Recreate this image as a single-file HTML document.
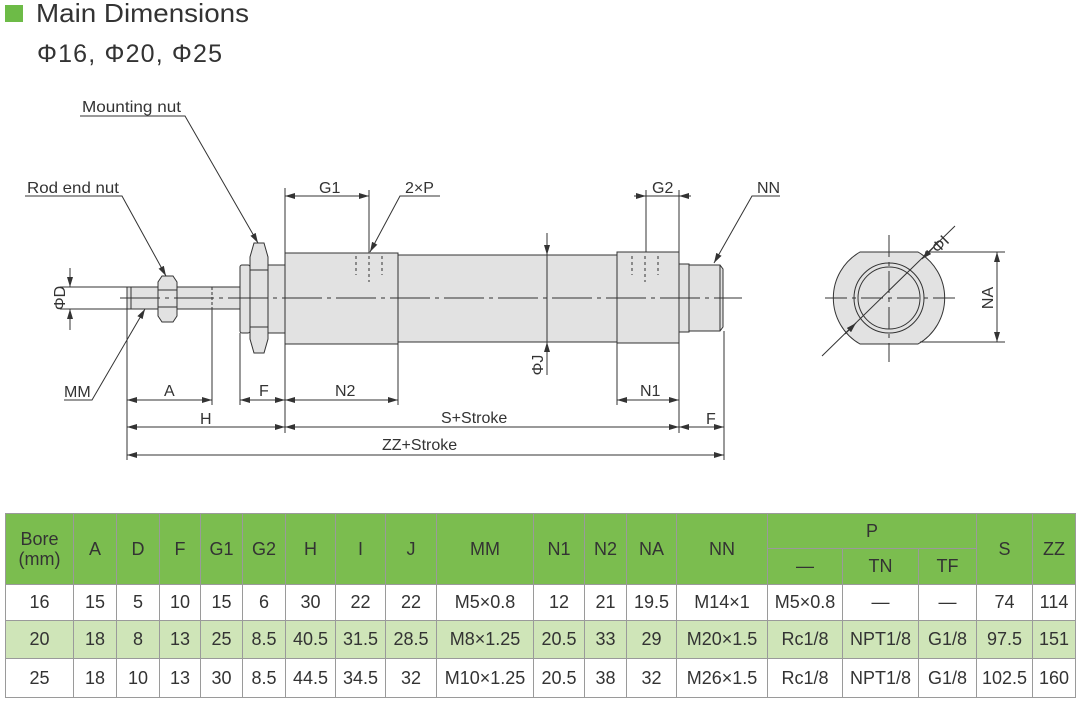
<!DOCTYPE html>
<html><head><meta charset="utf-8"><style>
body{margin:0;width:1080px;height:701px;background:#fff;position:relative;overflow:hidden;font-family:"Liberation Sans",sans-serif;color:#333}
svg{position:absolute;left:0;top:0}
table{position:absolute;left:5px;top:513px;border-collapse:collapse;table-layout:fixed;font-size:18px;color:#333}
td{border:1px solid #9a9a9a;text-align:center;padding:0;white-space:nowrap;letter-spacing:0}
.h td{background:#7bbd4f;}
.g td{background:#cfe5b8}
</style></head><body>
<svg width="1080" height="505" font-family="Liberation Sans, sans-serif" fill="#333">
<defs><marker id="a" viewBox="0 0 10 6" refX="10" refY="3" markerWidth="10" markerHeight="6" orient="auto-start-reverse" markerUnits="userSpaceOnUse"><path d="M0,0L10,3L0,6z" fill="#333"/></marker></defs>
<rect x="5" y="5" width="18" height="17" fill="#6dbb47"/>
<text x="36" y="22" font-size="26" textLength="213" lengthAdjust="spacingAndGlyphs">Main Dimensions</text>
<text x="37" y="62" font-size="25" textLength="185" lengthAdjust="spacing">Φ16, Φ20, Φ25</text>
<g stroke="#333" stroke-width="1" fill="#e2e2e2">
<rect x="127" y="287" width="113" height="22"/>
<line x1="131" y1="287" x2="131" y2="309"/>
<line x1="212" y1="287" x2="212" y2="309" stroke-dasharray="3,2"/>
<path d="M162,276h11l4,6v34l-4,6h-11l-4,-6v-34z"/>
<line x1="158" y1="290" x2="177" y2="290"/><line x1="158" y1="307" x2="177" y2="307"/>
<rect x="240" y="265" width="10" height="68" rx="2"/>
<path d="M254,243h10l4,14v82l-4,14h-10l-4,-14v-82z"/>
<line x1="250" y1="270" x2="268" y2="270"/><line x1="250" y1="327" x2="268" y2="327"/>
<rect x="268" y="265" width="17" height="68"/>
<rect x="285" y="253" width="113" height="91"/>
<rect x="398" y="255" width="219" height="87"/>
<rect x="617" y="252" width="62" height="91"/>
<rect x="679" y="264" width="10" height="68"/>
<path d="M689,265h31l3,4v58l-3,4h-31z"/>
<line x1="720" y1="265" x2="720" y2="331"/>
<path d="M860,252H918A53,53 0 0 1 918,344H860A53,53 0 0 1 860,252z"/>
<circle cx="889" cy="298" r="35" fill="#e2e2e2"/>
<circle cx="889" cy="298" r="31"/>
</g>
<g stroke="#333" stroke-width="1" fill="none">
<g stroke-dasharray="3,3">
<line x1="356" y1="256" x2="356" y2="275"/><line x1="369" y1="256" x2="369" y2="282"/><line x1="382" y1="256" x2="382" y2="275"/>
<line x1="632" y1="256" x2="632" y2="275"/><line x1="645" y1="256" x2="645" y2="282"/><line x1="658" y1="256" x2="658" y2="275"/>
</g>
<line x1="120" y1="298" x2="742" y2="298" stroke-dasharray="40,5,4,5"/>
<line x1="825" y1="298" x2="955" y2="298" stroke-dasharray="22,5,4,5"/>
<line x1="889" y1="235" x2="889" y2="362" stroke-dasharray="22,5,4,5"/>
<line x1="127" y1="309" x2="127" y2="460"/>
<line x1="212" y1="309" x2="212" y2="405"/>
<line x1="240" y1="333" x2="240" y2="405"/>
<line x1="285" y1="188" x2="285" y2="433"/>
<line x1="398" y1="344" x2="398" y2="405"/>
<line x1="369" y1="190" x2="369" y2="253"/>
<line x1="617" y1="343" x2="617" y2="405"/>
<line x1="679" y1="190" x2="679" y2="433"/>
<line x1="646" y1="190" x2="646" y2="252"/>
<line x1="724" y1="331" x2="724" y2="460"/>
<line x1="60" y1="287" x2="127" y2="287"/><line x1="60" y1="309" x2="127" y2="309"/>
<line x1="925" y1="252" x2="1005" y2="252"/><line x1="920" y1="342" x2="1005" y2="342"/>
<g marker-start="url(#a)" marker-end="url(#a)">
<line x1="127" y1="400" x2="212" y2="400"/>
<line x1="240" y1="400" x2="285" y2="400"/>
<line x1="285" y1="400" x2="398" y2="400"/>
<line x1="617" y1="400" x2="679" y2="400"/>
<line x1="127" y1="427" x2="285" y2="427"/>
<line x1="285" y1="427" x2="679" y2="427"/>
<line x1="679" y1="427" x2="724" y2="427"/>
<line x1="127" y1="455" x2="724" y2="455"/>
<line x1="285" y1="196" x2="369" y2="196"/>
<line x1="997" y1="252" x2="997" y2="342"/>
</g>
<line x1="634" y1="196" x2="646" y2="196" marker-end="url(#a)"/>
<line x1="691" y1="196" x2="679" y2="196" marker-end="url(#a)"/>
<line x1="646" y1="196" x2="679" y2="196"/>
<line x1="70" y1="268" x2="70" y2="287" marker-end="url(#a)"/>
<line x1="70" y1="330" x2="70" y2="309" marker-end="url(#a)"/>
<line x1="547" y1="233" x2="547" y2="255" marker-end="url(#a)"/>
<line x1="547" y1="375" x2="547" y2="342" marker-end="url(#a)"/>
<line x1="547" y1="255" x2="547" y2="342"/>
<line x1="822" y1="356" x2="955" y2="226"/>
<line x1="845" y1="334" x2="856" y2="323" marker-end="url(#a)"/>
<line x1="933" y1="248" x2="922" y2="259" marker-end="url(#a)"/>
<polyline points="80,116 185,116 258,243" marker-end="url(#a)"/>
<polyline points="25,196 122,196 166,276" marker-end="url(#a)"/>
<polyline points="64,400 92,400 145,309" marker-end="url(#a)"/>
<polyline points="440,196 400,196 370,252" marker-end="url(#a)"/>
<polyline points="780,196 752,196 714,263" marker-end="url(#a)"/>
</g>
<g font-size="16">
<text x="82" y="112" textLength="99" lengthAdjust="spacingAndGlyphs">Mounting nut</text>
<text x="27" y="193" textLength="92" lengthAdjust="spacingAndGlyphs">Rod end nut</text>
<text x="64" y="397">MM</text>
<text x="405" y="193">2×P</text>
<text x="757" y="193">NN</text>
<text x="319" y="193">G1</text>
<text x="652" y="193">G2</text>
<text x="164" y="396">A</text>
<text x="259" y="396">F</text>
<text x="335" y="396">N2</text>
<text x="640" y="396">N1</text>
<text x="200" y="424">H</text>
<text x="441" y="423">S+Stroke</text>
<text x="706" y="424">F</text>
<text x="382" y="450">ZZ+Stroke</text>
<text transform="translate(65,298) rotate(-90)" text-anchor="middle">ΦD</text>
<text transform="translate(543,365) rotate(-90)" text-anchor="middle">ΦJ</text>
<text transform="translate(993,298) rotate(-90)" text-anchor="middle">NA</text>
<text transform="translate(944,248) rotate(-45)" text-anchor="middle">ΦI</text>
</g>
</svg>
<table>
<colgroup><col style="width:68px"><col style="width:43px"><col style="width:43px"><col style="width:41px"><col style="width:42px"><col style="width:43px"><col style="width:50px"><col style="width:50px"><col style="width:51px"><col style="width:97px"><col style="width:51px"><col style="width:42px"><col style="width:50px"><col style="width:91px"><col style="width:75px"><col style="width:76px"><col style="width:58px"><col style="width:56px"><col style="width:43px"></colgroup>
<tr class="h" style="height:35px"><td rowspan="2" style="line-height:20px">Bore<br>(mm)</td><td rowspan="2">A</td><td rowspan="2">D</td><td rowspan="2">F</td><td rowspan="2">G1</td><td rowspan="2">G2</td><td rowspan="2">H</td><td rowspan="2">I</td><td rowspan="2">J</td><td rowspan="2">MM</td><td rowspan="2">N1</td><td rowspan="2">N2</td><td rowspan="2">NA</td><td rowspan="2">NN</td><td colspan="3">P</td><td rowspan="2">S</td><td rowspan="2">ZZ</td></tr>
<tr class="h" style="height:36px"><td>—</td><td>TN</td><td>TF</td></tr>
<tr style="height:36px"><td>16</td><td>15</td><td>5</td><td>10</td><td>15</td><td>6</td><td>30</td><td>22</td><td>22</td><td>M5×0.8</td><td>12</td><td>21</td><td>19.5</td><td>M14×1</td><td>M5×0.8</td><td>—</td><td>—</td><td>74</td><td>114</td></tr>
<tr class="g" style="height:38px"><td>20</td><td>18</td><td>8</td><td>13</td><td>25</td><td>8.5</td><td>40.5</td><td>31.5</td><td>28.5</td><td>M8×1.25</td><td>20.5</td><td>33</td><td>29</td><td>M20×1.5</td><td>Rc1/8</td><td>NPT1/8</td><td>G1/8</td><td>97.5</td><td>151</td></tr>
<tr style="height:39px"><td>25</td><td>18</td><td>10</td><td>13</td><td>30</td><td>8.5</td><td>44.5</td><td>34.5</td><td>32</td><td>M10×1.25</td><td>20.5</td><td>38</td><td>32</td><td>M26×1.5</td><td>Rc1/8</td><td>NPT1/8</td><td>G1/8</td><td>102.5</td><td>160</td></tr>
</table>
</body></html>
